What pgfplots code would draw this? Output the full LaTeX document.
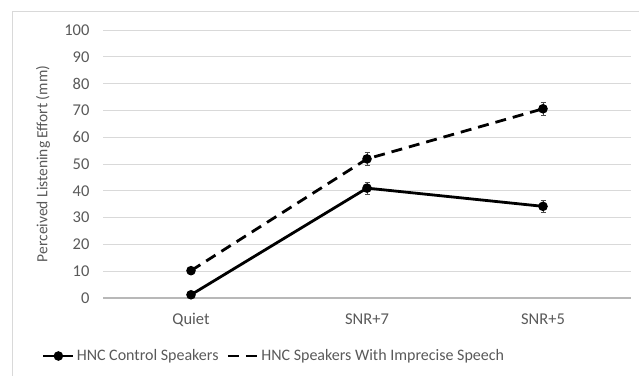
\documentclass[border=0pt]{standalone}
\usepackage{pgfplots}
\pgfplotsset{compat=1.18}
\usepackage{fontspec}
\setmainfont{Carlito}
\definecolor{txt}{HTML}{595959}
\definecolor{grd}{HTML}{D9D9D9}
\begin{document}
\begin{tikzpicture}[x=1pt,y=1pt]
\useasboundingbox (0pt,0pt) rectangle (639pt,375pt);
\draw[grd, line width=1pt] (12pt,-10pt) -- (12pt,363pt) -- (660pt,363pt);
\begin{axis}[
  at={(103pt,77pt)}, anchor=south west,
  scale only axis, width=528pt, height=268pt,
  xmin=-0.5, xmax=2.5, ymin=0, ymax=100,
  xtick={0,1,2}, xticklabels={Quiet,SNR+7,SNR+5},
  ytick={0,10,...,100},
  axis x line*=bottom, axis y line*=left,
  y axis line style={draw=none},
  x axis line style={draw=grd!85!black, line width=1.2pt, -},
  ymajorgrids, grid style={grd, line width=0.8pt},
  major tick length=0pt,
  tick label style={font=\fontsize{16.5}{19}\selectfont, text=txt},
  /pgf/number format/assume math mode=true,
  xticklabel style={yshift=-12pt},
  yticklabel style={xshift=-10pt},
  ylabel={Perceived Listening Effort (mm)},
  every axis y label/.style={at={(-60pt,134pt)}, rotate=90, anchor=center, font=\fontsize{15.5}{18}\selectfont, text=txt},
  clip=false,
  legend style={at={(171pt,-58pt)}, anchor=center, draw=none, fill=none,
    legend columns=2, font=\fontsize{16}{19}\selectfont, text=txt,
    /tikz/every even column/.append style={column sep=6pt},
    inner sep=0pt},
  legend cell align=left,
  legend image code/.code={\draw[mark repeat=2,mark phase=2,#1] plot coordinates {(0pt,0pt) (15pt,0pt) (30pt,0pt)};},
]
\addplot[black, line width=2.8pt, mark=*, mark size=3.3pt,
  error bars/.cd, y dir=both, y explicit, error bar style={line width=0.6pt, black!70}, error mark options={rotate=90, mark size=2.5pt, line width=0.6pt, black!70}]
  coordinates {(0,1.2) +- (0,0.4) (1,41) +- (0,2.3) (2,34.2) +- (0,2.1)};
\addlegendentry{HNC Control Speakers}
\addplot[black, line width=2.8pt, dash pattern=on 11pt off 7pt, mark=*, mark size=3.3pt,
  mark options={solid}, legend image post style={mark=none},
  error bars/.cd, y dir=both, y explicit, error bar style={line width=0.6pt, black!70, solid}, error mark options={rotate=90, mark size=2.5pt, line width=0.6pt, black!70, solid},
  ]
  coordinates {(0,10.2) +- (0,0.5) (1,51.9) +- (0,2.3) (2,70.6) +- (0,2.3)};
\addlegendentry{HNC Speakers With Imprecise Speech}
\end{axis}
\end{tikzpicture}
\end{document}
